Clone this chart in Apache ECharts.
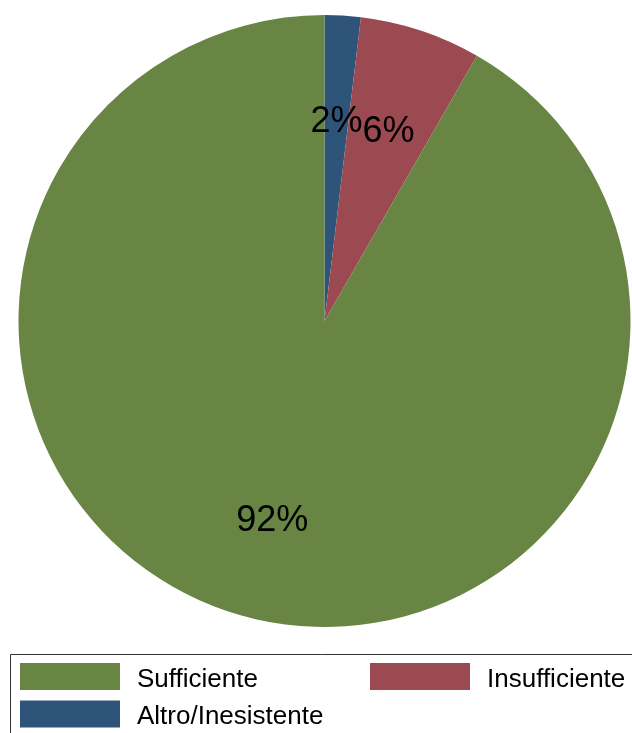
<!DOCTYPE html>
<html>
<head>
<meta charset="utf-8">
<script src="https://cdn.jsdelivr.net/npm/echarts@6/dist/echarts.min.js"></script>
<style>
  html, body { margin: 0; padding: 0; background: #fff; }
  #chart { width: 632px; height: 733px; }
</style>
</head>
<body>
<div id="chart"></div>
<script>
// Slice categories, clockwise from 12 o'clock
const categories = ['Altro/Inesistente', 'Insufficiente', 'Sufficiente'];
// Share of responses (percent)
const values = [1.9, 6.4, 91.7];
const colors = ['#2f5479', '#9b4a51', '#688543'];
// Legend order
const legendRow = ['Sufficiente', 'Insufficiente', 'Altro/Inesistente'];

const font = '"Liberation Sans", Arial, Helvetica, sans-serif';
const colorOf = name => colors[categories.indexOf(name)];

const pieData = categories.map((name, i) => ({
  name: name,
  value: values[i],
  itemStyle: { color: colors[i] }
}));

const chart = echarts.init(document.getElementById('chart'), null, { renderer: 'canvas' });

const legendItem = name => ({ name: name, icon: 'rect', itemStyle: { color: colorOf(name) } });
const legendBase = {
  orient: 'vertical',
  padding: 0,
  itemWidth: 100,
  itemHeight: 27,
  itemGap: 8,
  selectedMode: false,
  formatter: '{t|{name}}',
  textStyle: {
    fontFamily: font, fontSize: 26, color: '#000', padding: [0, 0, 0, 12],
    rich: { t: { fontFamily: font, fontSize: 26, color: '#000', padding: [6, 0, 0, 0] } }
  }
};

chart.setOption({
  animation: false,
  backgroundColor: '#fff',
  legend: [
    Object.assign({}, legendBase, {
      left: 20, top: 663,
      data: [legendItem(legendRow[0]), legendItem(legendRow[2])]
    }),
    Object.assign({}, legendBase, {
      left: 370, top: 663,
      data: [legendItem(legendRow[1])]
    })
  ],
  graphic: [{
    type: 'rect',
    left: 8, top: 652,
    shape: { width: 640, height: 100 },
    style: { fill: 'none', stroke: '#333', lineWidth: 1 },
    silent: true,
    z: -1
  }],
  series: [
    {
      type: 'pie',
      center: [324.5, 321],
      radius: [0, 306],
      startAngle: 90,
      clockwise: true,
      avoidLabelOverlap: false,
      silent: true,
      label: { show: false },
      labelLine: { show: false },
      itemStyle: { borderWidth: 0 },
      data: pieData
    },
    {
      // Label ring: places the percentage text at about two thirds of the radius
      type: 'pie',
      center: [324.5, 325],
      radius: [94, 306],
      startAngle: 90,
      clockwise: true,
      avoidLabelOverlap: false,
      silent: true,
      itemStyle: { color: 'rgba(0,0,0,0)', borderWidth: 0 },
      labelLine: { show: false },
      labelLayout: { hideOverlap: false },
      label: {
        show: true,
        position: 'inside',
        fontFamily: font,
        fontSize: 36,
        color: '#000',
        formatter: p => Math.round(p.percent) + '%'
      },
      data: categories.map((name, i) => ({ name: name, value: values[i] }))
    }
  ]
});
</script>
</body>
</html>
